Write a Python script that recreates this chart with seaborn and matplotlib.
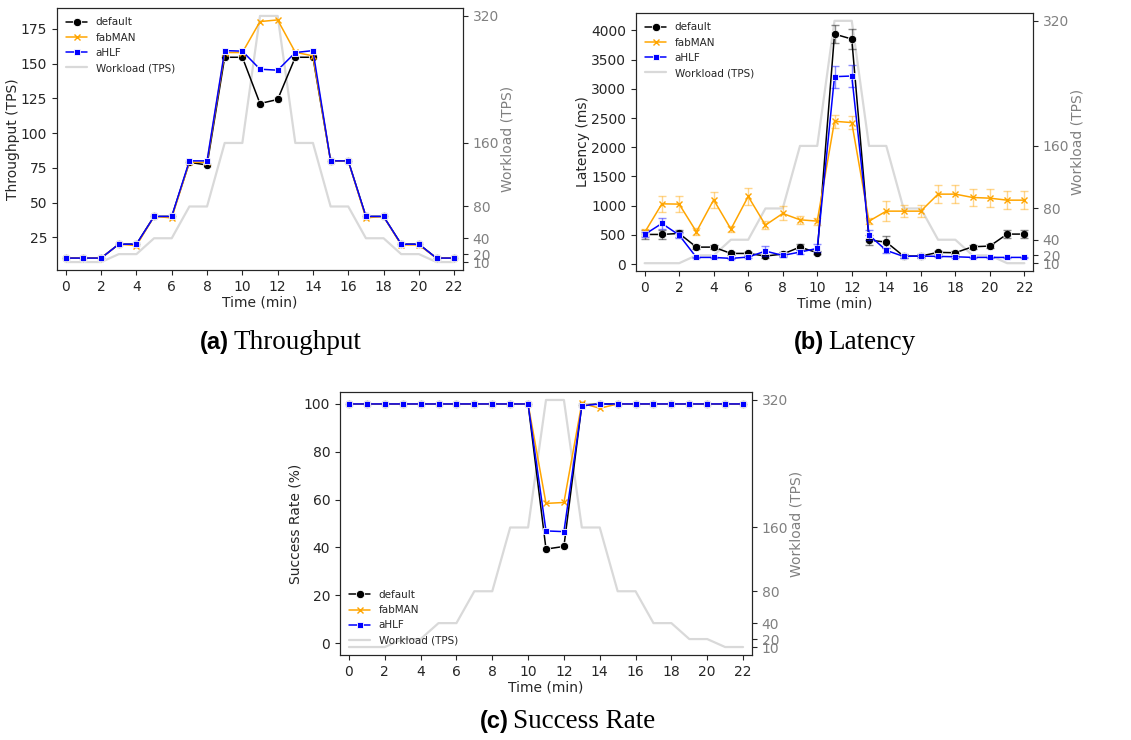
import matplotlib
matplotlib.use("Agg")
import matplotlib.pyplot as plt
import seaborn as sns

sns.set_style("ticks")
plt.rcParams["font.family"] = ["DejaVu Sans"]

# Data
time_min = list(range(23))
workload_tps = [10, 10, 10, 20, 20, 40, 40, 80, 80, 160, 160, 320, 320,
                160, 160, 80, 80, 40, 40, 20, 20, 10, 10]
workload_ticks = [10, 20, 40, 80, 160, 320]

thr_default = [10, 10, 10, 20, 20, 40, 40, 79, 77, 154.6, 154.6, 121.3, 124.2,
               154.6, 154.6, 80, 80, 40, 40, 20, 20, 10, 10]
thr_fabman = [10, 10, 10, 20, 19, 40, 39, 79, 79, 158, 158, 180.3, 181.5,
              158.2, 155.6, 80, 80, 39, 40, 19.5, 19.5, 10, 10]
thr_ahlf = [10, 10, 10, 20, 20, 40, 40, 80, 80, 159.4, 159, 146, 145.3,
            158, 159.4, 80, 80, 40, 40, 20, 20, 10, 10]

lat_default = [507, 507, 524, 290, 290, 182, 182, 137, 171, 290, 194, 3937, 3852,
               410, 376, 137, 137, 200, 194, 296, 308, 513, 513]
lat_default_err = [75, 70, 60, 30, 30, 25, 25, 25, 30, 50, 30, 160, 170,
                   90, 100, 30, 30, 30, 30, 30, 30, 65, 65]
lat_fabman = [541, 1031, 1026, 553, 1100, 598, 1157, 667, 866, 758, 735, 2444, 2422,
              735, 906, 906, 906, 1197, 1197, 1140, 1128, 1094, 1094]
lat_fabman_err = [60, 142, 140, 60, 140, 55, 150, 75, 120, 70, 60, 108, 110,
                  55, 177, 105, 100, 150, 150, 150, 150, 150, 150]
lat_ahlf = [507, 695, 496, 114, 114, 97, 120, 222, 148, 205, 268, 3208, 3219,
            496, 234, 131, 137, 131, 125, 114, 114, 114, 114]
lat_ahlf_err = [50, 90, 50, 15, 15, 15, 20, 90, 30, 40, 70, 188, 195,
                90, 40, 20, 20, 15, 15, 10, 10, 10, 10]

suc_default = [100] * 11 + [39.3, 40.4, 99.6] + [100] * 9
suc_fabman = [100] * 11 + [58.4, 58.8, 100.3, 98.2] + [100] * 8
suc_ahlf = [100] * 11 + [46.9, 46.6, 99.2] + [100] * 9

series_names = ["default", "fabMAN", "aHLF"]
series_colors = ["black", "orange", "blue"]
series_markers = ["o", "x", "s"]
series_msize = [6, 5, 4.5]


def draw_panel(ax, values, ylabel, yticks, legend_loc, errors=None, ylim=None):
    ax2 = ax.twinx()
    sns.lineplot(x=time_min, y=workload_tps, ax=ax2, color="#d9d9d9",
                 linewidth=1.6, label="Workload (TPS)")
    if ax2.get_legend() is not None:
        ax2.get_legend().remove()
    ax2.set_ylim(0, 330)
    ax2.set_yticks(workload_ticks)
    ax2.tick_params(axis="y", labelcolor="grey", labelsize=10)
    ax2.set_ylabel("Workload (TPS)", color="grey", fontsize=10, labelpad=1)

    for i, vals in enumerate(values):
        mec = series_colors[i] if series_markers[i] == "x" else "white"
        sns.lineplot(x=time_min, y=vals, ax=ax, color=series_colors[i],
                     marker=series_markers[i], markersize=series_msize[i],
                     markeredgecolor=mec, markeredgewidth=1 if mec != "white" else 0.6,
                     linewidth=1.1, label=series_names[i])
        if errors is not None:
            ax.errorbar(time_min, vals, yerr=errors[i], fmt="none",
                        ecolor=series_colors[i], alpha=0.45, capsize=3,
                        elinewidth=1, capthick=1)

    ax.set_zorder(ax2.get_zorder() + 1)
    ax.patch.set_visible(False)

    ax.set_xlim(-0.5, 22.5)
    ax.set_xticks(range(0, 23, 2))
    ax.set_yticks(yticks)
    if ylim is not None:
        ax.set_ylim(*ylim)
    ax.tick_params(labelsize=10)
    ax.set_xlabel("Time (min)", fontsize=10, labelpad=1)
    ax.set_ylabel(ylabel, fontsize=10, labelpad=1)

    h1, l1 = ax.get_legend_handles_labels()
    h2, l2 = ax2.get_legend_handles_labels()
    ax.legend(h1 + h2, l1 + l2, loc=legend_loc, frameon=False, fontsize=7.5)


fig = plt.figure(figsize=(11.31, 7.40), dpi=100)
W, H = 1131, 740


def axes_px(left, top, right, bottom):
    return fig.add_axes([left / W, 1 - bottom / H, (right - left) / W, (bottom - top) / H])


ax_a = axes_px(57, 8, 463, 270)
ax_b = axes_px(636, 13, 1033, 271)
ax_c = axes_px(340, 392, 752, 655)

draw_panel(ax_a, [thr_default, thr_fabman, thr_ahlf], "Throughput (TPS)",
           range(25, 176, 25), "upper left")
draw_panel(ax_b, [lat_default, lat_fabman, lat_ahlf], "Latency (ms)",
           range(0, 4001, 500), "upper left",
           errors=[lat_default_err, lat_fabman_err, lat_ahlf_err])
draw_panel(ax_c, [suc_default, suc_fabman, suc_ahlf], "Success Rate (%)",
           range(0, 101, 20), "lower left", ylim=(-5, 105))


def caption(split_x, base_y, tag, text):
    fig.text(split_x / W, 1 - base_y / H, tag, ha="right", va="baseline",
             fontsize=17, fontweight="bold", family="Liberation Sans", color="black")
    fig.text((split_x + 4) / W, 1 - base_y / H, text, ha="left", va="baseline",
             fontsize=19.5, family="Liberation Serif", color="black")


caption(229, 349, "(a)", "Throughput")
caption(824, 349, "(b)", "Latency")
caption(509, 728, "(c)", "Success Rate")

fig.savefig("out.png", dpi=100)
